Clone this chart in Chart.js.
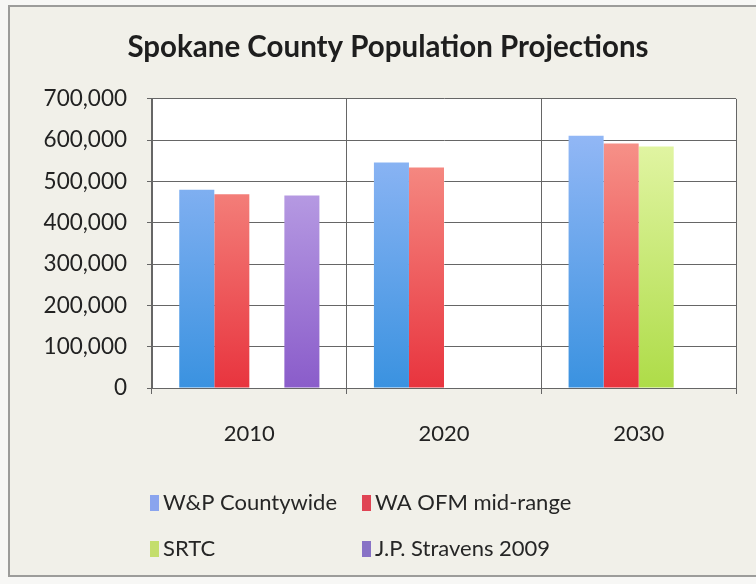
<!DOCTYPE html>
<html>
<head>
<meta charset="utf-8">
<title>Spokane County Population Projections</title>
<script src="https://cdn.jsdelivr.net/npm/chart.js@4.4.1/dist/chart.umd.min.js"></script>
<style>
  html, body { margin: 0; padding: 0; background: #f7f7f5; }
  #wrap { width: 756px; height: 584px; }
</style>
</head>
<body>
<div id="wrap"><canvas id="popChart" width="756" height="584"></canvas></div>
<script>
// Projection years and the four population series
const years = ['2010', '2020', '2030'];
const wpCountywide = [480000, 546000, 611000];
const ofmMidRange = [469000, 534000, 592000];
const srtc = [null, null, 585000];
const stravens2009 = [466000, null, null];

// Tick labels on the value axis
const yTicks = [0, 100000, 200000, 300000, 400000, 500000, 600000, 700000];

const FONT = 'Lato, "Open Sans", sans-serif';

// Vertical gradient across the plot area, light at the top, saturated at the bottom
function barFill(top, bottom) {
    return (ctx) => {
        const area = ctx.chart.chartArea;
        if (!area) return bottom;
        const g = ctx.chart.ctx.createLinearGradient(0, area.top + 30, 0, area.bottom);
        g.addColorStop(0, top);
        g.addColorStop(1, bottom);
        return g;
    };
}

// Page background, gray frame and white plot area
const frame = {
    id: 'frame',
    beforeDraw(chart) {
        const { ctx, chartArea: a } = chart;
        ctx.save();
        ctx.fillStyle = '#f7f7f5';
        ctx.fillRect(0, 0, chart.width, chart.height);
        ctx.fillStyle = '#f1f0e9';
        ctx.fillRect(9, 6, chart.width - 9, 570);
        ctx.strokeStyle = '#9c9c9a';
        ctx.lineWidth = 2;
        ctx.strokeRect(9, 6, chart.width + 10, 570);
        ctx.fillStyle = '#ffffff';
        ctx.fillRect(a.left, a.top, a.right - a.left, a.bottom - a.top);
        ctx.restore();
    }
};

// Two-column legend below the axis
const gridLegend = {
    id: 'gridLegend',
    afterDraw(chart, args, opts) {
        const { ctx } = chart;
        ctx.save();
        ctx.font = '22px ' + FONT;
        ctx.textBaseline = 'middle';
        chart.data.datasets.forEach((ds, i) => {
            const x = opts.cols[i % 2];
            const y = opts.rows[Math.floor(i / 2)];
            ctx.fillStyle = ds.swatch;
            ctx.fillRect(x, y - 8, 9, 16);
            ctx.fillStyle = '#262626';
            ctx.fillText(ds.label, x + 13, y);
        });
        ctx.restore();
    }
};

new Chart(document.getElementById('popChart'), {
    type: 'bar',
    data: {
        labels: years,
        datasets: [
            { label: 'W&P Countywide', data: wpCountywide,
              backgroundColor: barFill('#94b8f6', '#3a92e0'), swatch: '#8aa4ee' },
            { label: 'WA OFM mid-range', data: ofmMidRange,
              backgroundColor: barFill('#f7968c', '#e8343e'), swatch: '#e04454' },
            { label: 'SRTC', data: srtc,
              backgroundColor: barFill('#e4f6a8', '#aedc48'), swatch: '#c4de6c' },
            { label: 'J.P. Stravens 2009', data: stravens2009,
              backgroundColor: barFill('#c4aeea', '#8a5cca'), swatch: '#8872c6' }
        ]
    },
    options: {
        responsive: false,
        animation: false,
        categoryPercentage: 0.72,
        barPercentage: 1,
        layout: { padding: { top: 0, left: 40, right: 20, bottom: 136 } },
        plugins: {
            legend: { display: false },
            tooltip: { enabled: false },
            title: {
                display: true,
                text: 'Spokane County Population Projections',
                color: '#1e1e1e',
                font: { family: FONT, size: 29.5, weight: 'bold' },
                padding: { top: 30, bottom: 33.5 }
            },
            gridLegend: { cols: [150, 362], rows: [503, 549] }
        },
        scales: {
            x: {
                grid: { color: '#666666', lineWidth: 1, tickLength: 6, offset: true },
                border: { color: '#666666' },
                ticks: { color: '#222', padding: 27, font: { family: FONT, size: 22 } },
                afterFit(scale) { scale.height = 60; }
            },
            y: {
                min: 0,
                max: 700000,
                afterBuildTicks(scale) { scale.ticks = yTicks.map(v => ({ value: v })); },
                grid: { color: '#666666', lineWidth: 1, tickLength: 5 },
                border: { color: '#666666' },
                ticks: {
                    color: '#222',
                    padding: 20,
                    font: { family: FONT, size: 22.5 },
                    callback: v => v.toLocaleString('en-US')
                },
                afterFit(scale) { scale.width = 112; }
            }
        }
    },
    plugins: [frame, gridLegend]
});
</script>
</body>
</html>
